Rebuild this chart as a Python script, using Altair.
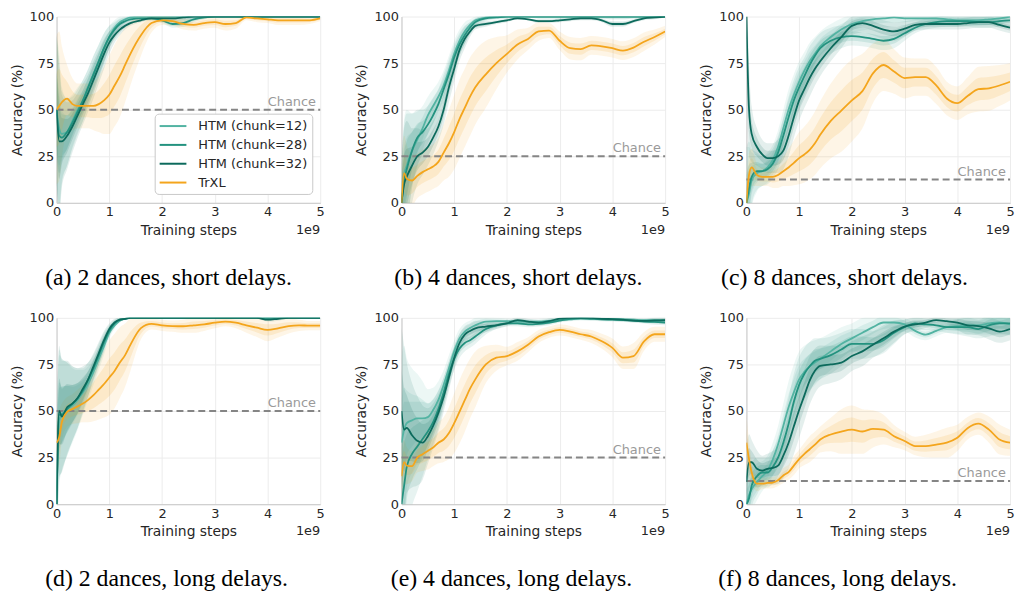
import altair as alt
import pandas as pd

# ---------------- data ----------------
X = [0, 0.05, 0.1, 0.2, 0.3, 0.4, 0.5, 0.6, 0.7, 0.8, 0.9, 1.0, 1.1, 1.2, 1.3, 1.4,
     1.6, 1.8, 2.0, 2.2, 2.4, 2.6, 2.8, 3.0, 3.2, 3.4, 3.6, 3.8, 4.0, 4.2, 4.4, 4.6, 4.8, 5.0]

SERIES = ["HTM (chunk=12)", "HTM (chunk=28)", "HTM (chunk=32)", "TrXL"]
BANDS = ["band12", "band28", "band32", "bandTrXL"]
COLORS = ["#52b3a2", "#23927f", "#0c6a5c", "#f4a51c"]

# (a) 2 dances, short delays
a_h12 = [50, 40, 37, 38, 44, 50, 55, 62, 69, 76, 83, 89, 94, 97, 98.5, 99.5, 100, 100, 100, 100, 100, 100, 100, 100, 100, 100, 100, 100, 100, 100, 100, 100, 100, 100]
a_h28 = [50, 36, 35, 38, 43, 49, 55, 62, 69, 76, 83, 89, 93, 96, 97.5, 98.5, 99, 99, 98, 96, 96.5, 98.5, 99.5, 100, 100, 100, 100, 100, 100, 100, 100, 100, 100, 100]
a_h32 = [50, 33, 33, 36, 41, 47, 53, 59, 66, 73, 80, 86, 90, 93, 95, 96.5, 98, 99, 99, 99, 99.5, 100, 100, 100, 100, 100, 100, 100, 100, 100, 100, 100, 100, 100]
a_tr = [50, 52, 54, 56, 53, 52, 52, 52, 52, 53, 55, 58, 63, 68, 74, 80, 90, 96.5, 98, 97.5, 96, 95.5, 96.5, 97, 96, 96.5, 99.5, 99, 98.5, 98, 98, 98, 98, 99]
a_sh = [40, 40, 25, 18, 14, 12, 11, 10, 10, 9, 8, 6, 4, 3, 2, 1.5, 1, 1, 1.5, 2, 2, 1.5, 1, 0.5, 0.5, 0.5, 0.5, 0.5, 0.5, 0.5, 0.5, 0.5, 0.5, 0.5]
a_st = [40, 40, 30, 18, 14, 12, 12, 12, 13, 15, 18, 21, 22, 22, 20, 17, 11, 5, 2.5, 2.5, 3, 3, 3, 3, 3.5, 3, 1.5, 2, 2, 2.5, 2.5, 2.5, 2, 1.5]

# (b) 4 dances, short delays
b_h12 = [0, 15, 20, 28, 34, 40, 47, 52, 57, 63, 71, 80, 87, 92, 95.5, 98, 99.5, 100, 100, 100, 100, 100, 100, 100, 100, 100, 100, 100, 100, 100, 100, 100, 100, 100]
b_h28 = [0, 12, 18, 28, 35, 38, 42, 47, 53, 61, 69, 78, 85, 90, 94, 97, 99, 99.5, 100, 100, 100, 100, 100, 100, 100, 100, 100, 100, 100, 100, 100, 100, 100, 100]
b_h32 = [0, 10, 14, 20, 25, 27, 30, 35, 41, 50, 62, 72, 82, 88, 92, 95, 96, 97, 98, 99, 98.5, 97.5, 97.5, 98, 98.5, 99, 99, 98, 96, 96, 97.5, 99, 99.5, 100]
b_tr = [0, 16, 13, 12, 14.5, 16.5, 18, 19.5, 22, 27, 32, 38, 45, 51, 57, 62, 69, 75, 80, 85, 88, 92, 92.5, 87, 83, 82.5, 84.5, 84, 83, 81.7, 83.3, 86.5, 89, 92]
b_sh = [20, 30, 30, 20, 15, 12, 10, 9, 8, 8, 8, 7, 6, 5, 3, 2, 1.5, 1, 1, 0.5, 0.5, 1, 1, 1, 1, 1, 1, 1, 1.5, 1.5, 1, 1, 1, 0.5]
b_st = [15, 20, 18, 14, 12, 12, 12, 12, 13, 15, 18, 20, 21, 21, 21, 20, 18, 14, 10, 8, 6, 5, 4, 5, 6, 6, 5, 5, 5, 5, 5, 5, 4, 3]

# (c) 8 dances, short delays
c_h12 = [0, 5, 12, 16, 17, 19, 23, 30, 40, 50, 58, 65, 71, 76, 80, 84, 89, 93, 96, 97.5, 98.5, 99, 99.5, 99, 99, 99, 99, 98.5, 98, 98, 98, 98.5, 99, 100]
c_h28 = [0, 8, 14, 17, 17, 18, 21, 27, 36, 46, 55, 62, 68, 74, 79, 83, 87, 89, 89.5, 89, 88, 87, 88, 91, 94, 96, 97, 97.5, 97.5, 97.5, 97, 97, 97.5, 98]
c_h32 = [100, 50, 37, 30, 26, 24, 24, 25, 28, 36, 46, 55, 61, 67, 72, 76, 83, 89, 95, 96.5, 95, 93, 92, 93.5, 95.5, 96, 96, 96, 96, 96.5, 97, 97, 95.5, 94]
c_tr = [0, 15, 19, 15, 14, 14, 14, 15, 17, 19, 21.5, 24, 26, 28.5, 32, 36.5, 44, 49.5, 55, 60, 69.5, 74, 70.5, 67, 67.5, 67.5, 63, 56, 53.5, 57.5, 61, 61.5, 63, 65]
c_sh = [30, 25, 15, 10, 8, 8, 8, 9, 10, 11, 11, 11, 10, 10, 9, 8, 7, 6, 5, 5, 5, 5, 5, 4, 3, 3, 3, 3, 3, 3, 3, 3, 3, 3]
c_st = [10, 12, 10, 6, 5, 5, 6, 7, 8, 10, 12, 14, 15, 16, 17, 18, 20, 22, 22, 20, 16, 14, 12, 11, 10, 10, 10, 9, 9, 10, 12, 12, 11, 10]

# (d) 2 dances, long delays
d_h12 = [0, 45, 48, 51, 53, 56, 60, 65, 71, 78, 85, 92, 96, 98.5, 99.5, 100, 100, 100, 100, 100, 100, 100, 100, 100, 100, 100, 100, 100, 100, 100, 100, 100, 100, 100]
d_h28 = [0, 48, 48, 51, 54, 57, 61, 67, 73, 80, 87, 93, 97, 99, 99.5, 100, 100, 100, 100, 100, 100, 100, 100, 100, 100, 100, 100, 100, 100, 100, 100, 100, 100, 100]
d_h32 = [0, 50, 47, 52, 54, 57, 62, 67, 74, 81, 88, 94, 97.5, 99, 99.5, 100, 100, 100, 100, 100, 100, 100, 100, 100, 100, 100, 100, 100, 99, 99.5, 100, 100, 100, 100]
d_tr = [33, 36, 44, 49.5, 51, 52.5, 54, 56, 58.5, 61.5, 64.5, 68, 71.5, 76, 80, 85.5, 94.5, 96.8, 96, 95.6, 95.5, 96, 96.5, 97.4, 98, 97.4, 96, 94.7, 93.5, 94.4, 95.6, 96, 95.8, 95.8]
d_sh = [40, 35, 30, 25, 20, 16, 12, 9, 7, 6, 5, 3, 2, 1, 0.5, 0.5, 0.5, 0.5, 0.5, 0.5, 0.5, 0.5, 0.5, 0.5, 0.5, 0.5, 0.5, 0.5, 1, 1, 0.5, 0.5, 0.5, 0.5]
d_st = [15, 15, 10, 8, 8, 9, 10, 12, 14, 16, 18, 20, 20, 19, 17, 14, 6, 3, 3, 3, 3.5, 4, 3.5, 3, 2.5, 3, 4, 5, 6, 5, 4, 3, 2.5, 2.5]

# (e) 4 dances, long delays
e_h12 = [33, 40, 43.5, 45, 46, 46, 46.7, 50.5, 56, 64, 73, 82, 89, 92.6, 94.5, 96, 98, 98.2, 98.2, 98, 97.9, 97.9, 98.4, 98.8, 99.2, 99.6, 99.6, 99.5, 99.3, 99.2, 99, 98.8, 98.8, 98.8]
e_h28 = [0, 10, 20, 27, 31, 35, 39, 44, 51, 60, 70, 78, 83.5, 86.5, 88, 90, 94, 96, 97, 97, 96.5, 96.8, 97.5, 98.5, 99.5, 99.8, 99.5, 99.2, 99, 98.8, 98.5, 98, 97.8, 97.5]
e_h32 = [50, 40, 41, 37, 34, 33, 36.5, 42, 49, 57.5, 68, 78.5, 86.5, 91, 93, 94.4, 95.3, 96, 97, 98.8, 98, 97.4, 98.2, 99.6, 100, 100, 100, 99.5, 99.3, 99, 98.5, 98.4, 98.6, 98.8]
e_tr = [15, 22.5, 20.7, 20.4, 25, 26.8, 28.6, 30.4, 33, 34.7, 38.2, 43.5, 49.6, 55.8, 62, 67, 75, 78.6, 79.5, 82, 85.6, 90, 92.3, 93.5, 92.6, 91.2, 90, 87.4, 83.9, 78.6, 79.5, 87.4, 91.2, 91.2]
e_sh = [45, 45, 35, 28, 24, 20, 15, 12, 10, 8, 7, 6, 5, 4.5, 4, 4, 3, 2, 1.5, 1.5, 1.5, 1.5, 1.5, 1, 1, 1, 1, 1, 1, 1, 1, 1, 1.5, 1.5]
e_st = [15, 12, 10, 8, 8, 9, 10, 10, 11, 12, 14, 16, 17, 17, 16, 15, 10, 7, 5, 5, 4, 3.5, 3, 3, 3, 3, 3.5, 4, 5, 6, 7, 5, 4, 4]

# (f) 8 dances, long delays
f_h12 = [0, 5, 8, 12, 15, 18, 24, 32, 42, 52, 60, 67, 71, 74, 76, 78, 82, 86, 89, 92, 95, 97.5, 97.5, 96.5, 93, 91, 93, 95, 95.5, 96, 96, 97, 97.5, 96.5]
f_h28 = [0, 3, 10, 15, 17, 17, 20, 25, 33, 43, 55, 64, 70, 74, 77, 78, 80, 83, 86, 86, 86, 88, 92, 95, 97, 96.5, 96, 95, 95, 95, 94, 96, 97, 97]
f_h32 = [12, 22.5, 22.5, 19, 18, 19, 19.5, 20.7, 26, 33, 41.8, 50.5, 58.4, 66.3, 71.6, 74.2, 75, 76, 79.5, 82, 85.6, 89, 92.6, 95.3, 96.5, 97.5, 98.8, 98.2, 97.5, 96, 95.6, 94.4, 92.6, 94]
f_tr = [33, 24, 17, 11, 11, 11.4, 11.6, 12.8, 15.4, 17.2, 20.7, 24.2, 27, 29.5, 32, 34.7, 37.4, 39, 40, 39, 40.4, 40, 36.5, 33.9, 31.2, 31.2, 32, 33, 35.6, 40.9, 43.2, 40, 34.7, 33]
f_sh = [15, 15, 12, 10, 8, 8, 9, 10, 12, 14, 15, 15, 14, 13, 12, 11, 10, 9, 8, 8, 7, 7, 6, 4, 3.5, 3, 3, 3, 4, 5, 5, 6, 6, 6]
f_st = [15, 10, 6, 4, 3, 3, 3, 3, 4, 4, 5, 5, 6, 7, 7, 7, 9, 12, 13, 12, 10, 8, 6, 5, 5, 6, 7, 8, 7, 6, 6, 7, 8, 7]

# caption, chance level, series, HTM spread, TrXL spread, caption shift
PANELS = [
    ("(a) 2 dances, short delays.", 50, [a_h12, a_h28, a_h32, a_tr], a_sh, a_st, -20),
    ("(b) 4 dances, short delays.", 25, [b_h12, b_h28, b_h32, b_tr], b_sh, b_st, -15),
    ("(c) 8 dances, short delays.", 12.5, [c_h12, c_h28, c_h32, c_tr], c_sh, c_st, -34),
    ("(d) 2 dances, long delays.", 50, [d_h12, d_h28, d_h32, d_tr], d_sh, d_st, -22),
    ("(e) 4 dances, long delays.", 25, [e_h12, e_h28, e_h32, e_tr], e_sh, e_st, -22),
    ("(f) 8 dances, long delays.", 12.5, [f_h12, f_h28, f_h32, f_tr], f_sh, f_st, -41),
]

X_TICKS = [0, 1, 2, 3, 4, 5]
Y_TICKS = [0, 25, 50, 75, 100]

W, H = 266, 188
FONT = "DejaVu Sans"
TXT = "#262626"


def build_df(series_vals, sh, st):
    rows = []
    for name, band, vals in zip(SERIES, BANDS, series_vals):
        spread = st if name == "TrXL" else sh
        for xv, m, s in zip(X, vals, spread):
            rows.append({"x": xv, "series": name, "band": band, "mean": m,
                         "lo_out": m - s, "hi_out": m + s,
                         "lo_in": m - s / 2, "hi_in": m + s / 2})
    return pd.DataFrame(rows)


def make_panel(caption, chance, series_vals, sh, st, dx, legend):
    df = build_df(series_vals, sh, st)
    xs = alt.X("x:Q", scale=alt.Scale(domain=[0, 5], nice=False),
               axis=alt.Axis(values=X_TICKS, title="Training steps", format="d"))
    yscale = alt.Scale(domain=[0, 100], nice=False)
    yaxis = alt.Axis(values=Y_TICKS, title="Accuracy (%)", format="d")
    cscale = alt.Scale(domain=SERIES, range=COLORS)
    fscale = alt.Scale(domain=BANDS, range=COLORS)

    base = alt.Chart(df)
    outer = base.mark_area(clip=True, opacity=0.11, interpolate="monotone").encode(
        x=xs, y=alt.Y("lo_out:Q", scale=yscale, axis=yaxis), y2="hi_out:Q",
        fill=alt.Fill("band:N", scale=fscale, legend=None))
    inner = base.mark_area(clip=True, opacity=0.14, interpolate="monotone").encode(
        x=xs, y=alt.Y("lo_in:Q", scale=yscale, axis=yaxis), y2="hi_in:Q",
        fill=alt.Fill("band:N", scale=fscale, legend=None))

    if legend:
        leg = alt.Legend(orient="none", legendX=99, legendY=98, title=None,
                         symbolType="M-1.8,0L1.8,0", symbolStrokeWidth=2, symbolSize=225,
                         symbolOffset=6, labelOffset=17,
                         labelFont=FONT, labelFontSize=13, labelColor=TXT,
                         fillColor="white", strokeColor="#c8c8c8", cornerRadius=4,
                         padding=4, rowPadding=3, labelLimit=300)
    else:
        leg = None
    lines = base.mark_line(clip=True, strokeWidth=1.8, interpolate="monotone").encode(
        x=xs, y=alt.Y("mean:Q", scale=yscale, axis=yaxis),
        stroke=alt.Stroke("series:N", scale=cscale, legend=leg),
        order=alt.Order("x:Q"))

    cdf = pd.DataFrame({"x": [0, 5], "y": [chance, chance]})
    cline = alt.Chart(cdf).mark_line(color="#858585", strokeWidth=2, strokeDash=[7, 4]).encode(
        x=xs, y=alt.Y("y:Q", scale=yscale, axis=yaxis))
    tdf = pd.DataFrame({"x": [4.92], "y": [chance], "t": ["Chance"]})
    ctext = alt.Chart(tdf).mark_text(align="right", baseline="bottom", dy=-1,
                                     font=FONT, fontSize=13, color="#9a9a9a").encode(
        x=xs, y=alt.Y("y:Q", scale=yscale, axis=yaxis), text="t:N")
    edf = pd.DataFrame({"t": ["1e9"]})
    etext = alt.Chart(edf).mark_text(align="right", baseline="middle",
                                     font=FONT, fontSize=13, color=TXT).encode(
        x=alt.value(W), y=alt.value(H + 27), text="t:N")

    return alt.layer(outer, inner, cline, ctext, lines, etext).properties(
        width=W, height=H,
        title=alt.TitleParams(caption, orient="bottom", anchor="middle",
                              font="Liberation Serif", fontSize=24, dx=dx,
                              fontWeight="normal", color="black", offset=29))


panels = [make_panel(c, ch, sv, sh, st, dx, i == 0)
          for i, (c, ch, sv, sh, st, dx) in enumerate(PANELS)]

chart = alt.concat(*panels, columns=3, spacing={"row": 116, "column": 82},
                   bounds="flush").resolve_scale(
    stroke="independent", fill="independent"
).properties(
    padding={"left": 2, "top": 0, "right": 0, "bottom": 0}
).configure_view(strokeWidth=0).configure_axis(
    domainColor="#d0d0d0", domainWidth=1.2, gridColor="#ececec", gridWidth=1,
    ticks=False, labelFont=FONT, labelFontSize=13, labelColor=TXT, labelPadding=3,
    titleFont=FONT, titleFontSize=14, titleFontWeight="normal", titleColor=TXT,
    titlePadding=5, labelFlush=False
)

chart.save("out.html", embed_options={"renderer": "svg", "actions": False})
